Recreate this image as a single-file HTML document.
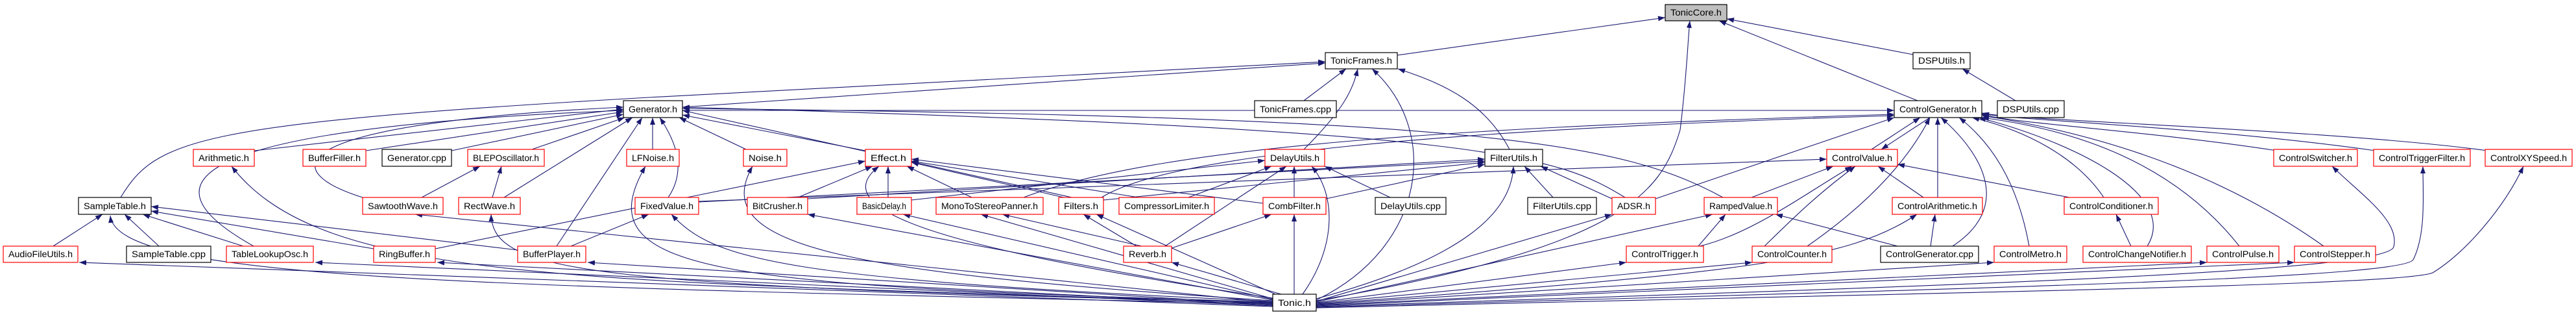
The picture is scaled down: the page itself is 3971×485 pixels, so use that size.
<!DOCTYPE html>
<html><head><meta charset="utf-8"><style>
html,body{margin:0;padding:0;background:#fff;width:3971px;height:485px;overflow:hidden}
svg{display:block}
text{font-family:"Liberation Sans",sans-serif;font-size:14px;fill:#000}
.e{fill:none;stroke:#191970;stroke-width:1.1}
.r{fill:#fff;stroke:#ff0000;stroke-width:1.2}
.b{fill:#fff;stroke:#000;stroke-width:1.2}
</style></head><body>
<svg width="3971" height="485" viewBox="0 0 3971 485" xmlns="http://www.w3.org/2000/svg">
<defs><marker id="a" viewBox="0 0 10 10" refX="10" refY="5" markerWidth="11" markerHeight="8" markerUnits="userSpaceOnUse" orient="auto" preserveAspectRatio="none"><path d="M0,0L10,5L0,10z" fill="#191970"/></marker></defs>
<g class="e" marker-end="url(#a)">
<path d="M1962,472 L122,404"/>
<path d="M1962,471 L486,404"/>
<path d="M1962,470 L674,404"/>
<path d="M1962,469 L906,404"/>
<path d="M1962,468 C700,440 180,430 170,332"/>
<path d="M1962,467 C900,430 500,440 357,256"/>
<path d="M1962,466 L640,330"/>
<path d="M1962,466 C900,440 760,420 757,330"/>
<path d="M1962,465 C1100,440 900,420 995,256"/>
<path d="M1962,464 C1200,430 1100,400 1035,330"/>
<path d="M1962,463 C1300,420 1090,380 1160,256"/>
<path d="M1962,462 L1245,330"/>
<path d="M1962,461 L1392,330"/>
<path d="M1962,460 L1512,330"/>
<path d="M1966,453 L1690,330"/>
<path d="M1975,453 L1806,404"/>
<path d="M1995,453 L1995,330"/>
<path d="M2008,453 C2060,380 2060,300 2022,256"/>
<path d="M1962,459 C1500,390 1260,330 1355,256"/>
<path d="M2029,460 C2250,400 2330,330 2333,256"/>
<path d="M2029,462 C2200,380 2220,200 2115,106"/>
<path d="M2029,463 C2500,380 2560,300 2590,200 C2600,120 2602,60 2605,32"/>
<path d="M2029,464 L2485,330"/>
<path d="M2029,465 L2640,330"/>
<path d="M2029,466 L2507,404"/>
<path d="M2029,467 L2701,404"/>
<path d="M2029,468 C2700,420 2850,400 2955,330"/>
<path d="M2029,469 L3074,404"/>
<path d="M2029,470 L3402,404"/>
<path d="M2029,471 L3537,404"/>
<path d="M2029,472 C3000,440 3680,420 3690,380 C3700,340 3640,300 3595,256"/>
<path d="M2029,473 C3000,445 3700,430 3720,400 C3740,360 3735,300 3735,256"/>
<path d="M2029,474 C3000,450 3700,440 3750,420 C3800,390 3860,320 3890,256"/>
<path d="M2154,85 L2567,27"/>
<path d="M2949,84 L2662,29"/>
<path d="M2956,155 L2650,32"/>
<path d="M3107,155 L3025,106"/>
<path d="M1052,165 L2043,97"/>
<path d="M186,304 C240,215 300,190 1000,150 L2043,95"/>
<path d="M2010,155 L2075,106"/>
<path d="M2010,230 C2070,170 2085,140 2093,106"/>
<path d="M2327,230 C2290,160 2230,130 2155,106"/>
<path d="M392,232 L961,168"/>
<path d="M564,232 L961,172"/>
<path d="M696,232 L961,176"/>
<path d="M820,230 L963,181"/>
<path d="M777,304 L975,181"/>
<path d="M559,304 C420,260 440,190 961,165"/>
<path d="M1006,230 L1006,181"/>
<path d="M1030,304 C1060,260 1040,215 1017,181"/>
<path d="M1150,230 L1047,181"/>
<path d="M1334,232 L1052,177"/>
<path d="M858,379 L990,181"/>
<path d="M391,379 C250,300 200,200 961,170"/>
<path d="M2505,304 C2400,240 2300,200 1052,165"/>
<path d="M2656,304 C2500,220 2300,180 1052,167"/>
<path d="M1652,304 L1052,170"/>
<path d="M1052,170 L2920,170"/>
<path d="M1230,304 L1345,256"/>
<path d="M1369,304 L1369,256"/>
<path d="M1498,304 L1398,256"/>
<path d="M1640,304 L1405,250"/>
<path d="M1755,304 L1405,248"/>
<path d="M1947,313 L1405,245"/>
<path d="M671,383 L1334,248"/>
<path d="M1405,308 L1950,247"/>
<path d="M1832,304 L1960,256"/>
<path d="M1796,379 L1983,256"/>
<path d="M1995,304 L1995,256"/>
<path d="M2143,304 L2042,256"/>
<path d="M1077,311 L2289,248"/>
<path d="M1701,308 L2289,250"/>
<path d="M2044,306 L2289,253"/>
<path d="M1245,306 L2289,245"/>
<path d="M2394,304 L2350,256"/>
<path d="M2485,306 L2375,256"/>
<path d="M2885,230 L2960,181"/>
<path d="M2975,181 L2900,230"/>
<path d="M2987,304 L2987,181"/>
<path d="M3243,304 C3200,240 3120,200 3040,181"/>
<path d="M3010,379 C3100,320 3060,240 2992,181"/>
<path d="M3128,379 C3110,280 3070,220 3020,181"/>
<path d="M3310,379 C3360,300 3200,220 3050,181"/>
<path d="M3452,379 C3350,250 3200,200 3055,181"/>
<path d="M3582,379 C3400,250 3200,200 3055,178"/>
<path d="M3510,232 C3300,200 3100,190 3055,176"/>
<path d="M3662,232 C3400,195 3100,185 3055,175"/>
<path d="M3835,232 C3600,200 3100,185 3055,174"/>
<path d="M2786,379 C2900,300 2950,230 2975,181"/>
<path d="M2552,306 L2920,181"/>
<path d="M1698,304 C1800,240 2200,200 2920,178"/>
<path d="M1578,304 C1800,220 2300,195 2920,176"/>
<path d="M2620,379 C2700,360 2780,300 2855,256"/>
<path d="M2700,304 L2826,256"/>
<path d="M2965,304 L2895,256"/>
<path d="M3190,304 L2925,253"/>
<path d="M1077,310 L2816,245"/>
<path d="M2720,379 C2760,340 2800,300 2860,256"/>
<path d="M2976,379 L2983,330"/>
<path d="M3285,379 L3262,330"/>
<path d="M2618,379 L2660,330"/>
<path d="M2925,379 L2737,330"/>
<path d="M82,379 L158,330"/>
<path d="M245,379 L192,330"/>
<path d="M375,379 L220,330"/>
<path d="M576,383 L233,325"/>
<path d="M798,385 L233,318"/>
<path d="M759,304 L773,256"/>
<path d="M650,304 L740,256"/>
<path d="M880,379 L1000,330"/>
<path d="M1760,379 L1545,330"/>
<path d="M1752,379 L1670,330"/>
<path d="M1806,382 L1960,330"/>
</g>
<g>
<rect x="2567" y="7" width="95" height="25" fill="#bfbfbf" stroke="#000" stroke-width="1.2"/><text x="2575" y="24" textLength="79" lengthAdjust="spacingAndGlyphs">TonicCore.h</text>
<rect class="b" x="2043" y="81" width="111" height="25"/><text x="2051" y="98" textLength="95" lengthAdjust="spacingAndGlyphs">TonicFrames.h</text>
<rect class="b" x="2949" y="81" width="88" height="25"/><text x="2957" y="98" textLength="72" lengthAdjust="spacingAndGlyphs">DSPUtils.h</text>
<rect class="b" x="961" y="155" width="91" height="26"/><text x="969" y="173" textLength="75" lengthAdjust="spacingAndGlyphs">Generator.h</text>
<rect class="b" x="1934" y="155" width="126" height="26"/><text x="1942" y="173" textLength="110" lengthAdjust="spacingAndGlyphs">TonicFrames.cpp</text>
<rect class="b" x="2920" y="155" width="135" height="26"/><text x="2928" y="173" textLength="119" lengthAdjust="spacingAndGlyphs">ControlGenerator.h</text>
<rect class="b" x="3079" y="155" width="103" height="26"/><text x="3087" y="173" textLength="87" lengthAdjust="spacingAndGlyphs">DSPUtils.cpp</text>
<rect class="r" x="298" y="230" width="94" height="26"/><text x="306" y="248" textLength="78" lengthAdjust="spacingAndGlyphs">Arithmetic.h</text>
<rect class="r" x="467" y="230" width="97" height="26"/><text x="475" y="248" textLength="81" lengthAdjust="spacingAndGlyphs">BufferFiller.h</text>
<rect class="b" x="589" y="230" width="107" height="26"/><text x="597" y="248" textLength="91" lengthAdjust="spacingAndGlyphs">Generator.cpp</text>
<rect class="r" x="721" y="230" width="118" height="26"/><text x="729" y="248" textLength="102" lengthAdjust="spacingAndGlyphs">BLEPOscillator.h</text>
<rect class="r" x="966" y="230" width="81" height="26"/><text x="974" y="248" textLength="65" lengthAdjust="spacingAndGlyphs">LFNoise.h</text>
<rect class="r" x="1146" y="230" width="67" height="26"/><text x="1154" y="248" textLength="51" lengthAdjust="spacingAndGlyphs">Noise.h</text>
<rect class="r" x="1334" y="230" width="71" height="26"/><text x="1342" y="248" textLength="55" lengthAdjust="spacingAndGlyphs">Effect.h</text>
<rect class="r" x="1950" y="230" width="92" height="26"/><text x="1958" y="248" textLength="76" lengthAdjust="spacingAndGlyphs">DelayUtils.h</text>
<rect class="b" x="2289" y="230" width="89" height="26"/><text x="2297" y="248" textLength="73" lengthAdjust="spacingAndGlyphs">FilterUtils.h</text>
<rect class="r" x="2816" y="230" width="109" height="26"/><text x="2824" y="248" textLength="93" lengthAdjust="spacingAndGlyphs">ControlValue.h</text>
<rect class="r" x="3505" y="230" width="129" height="26"/><text x="3513" y="248" textLength="113" lengthAdjust="spacingAndGlyphs">ControlSwitcher.h</text>
<rect class="r" x="3659" y="230" width="149" height="26"/><text x="3667" y="248" textLength="133" lengthAdjust="spacingAndGlyphs">ControlTriggerFilter.h</text>
<rect class="r" x="3831" y="230" width="134" height="26"/><text x="3839" y="248" textLength="118" lengthAdjust="spacingAndGlyphs">ControlXYSpeed.h</text>
<rect class="b" x="121" y="304" width="112" height="26"/><text x="129" y="322" textLength="96" lengthAdjust="spacingAndGlyphs">SampleTable.h</text>
<rect class="r" x="559" y="304" width="124" height="26"/><text x="567" y="322" textLength="108" lengthAdjust="spacingAndGlyphs">SawtoothWave.h</text>
<rect class="r" x="707" y="304" width="95" height="26"/><text x="715" y="322" textLength="79" lengthAdjust="spacingAndGlyphs">RectWave.h</text>
<rect class="r" x="979" y="304" width="98" height="26"/><text x="987" y="322" textLength="82" lengthAdjust="spacingAndGlyphs">FixedValue.h</text>
<rect class="r" x="1152" y="304" width="93" height="26"/><text x="1160" y="322" textLength="77" lengthAdjust="spacingAndGlyphs">BitCrusher.h</text>
<rect class="r" x="1321" y="304" width="84" height="26"/><text x="1329" y="322" textLength="68" lengthAdjust="spacingAndGlyphs">BasicDelay.h</text>
<rect class="r" x="1443" y="304" width="165" height="26"/><text x="1451" y="322" textLength="149" lengthAdjust="spacingAndGlyphs">MonoToStereoPanner.h</text>
<rect class="r" x="1632" y="304" width="69" height="26"/><text x="1640" y="322" textLength="53" lengthAdjust="spacingAndGlyphs">Filters.h</text>
<rect class="r" x="1725" y="304" width="147" height="26"/><text x="1733" y="322" textLength="131" lengthAdjust="spacingAndGlyphs">CompressorLimiter.h</text>
<rect class="r" x="1947" y="304" width="97" height="26"/><text x="1955" y="322" textLength="81" lengthAdjust="spacingAndGlyphs">CombFilter.h</text>
<rect class="b" x="2120" y="304" width="109" height="26"/><text x="2128" y="322" textLength="93" lengthAdjust="spacingAndGlyphs">DelayUtils.cpp</text>
<rect class="b" x="2355" y="304" width="106" height="26"/><text x="2363" y="322" textLength="90" lengthAdjust="spacingAndGlyphs">FilterUtils.cpp</text>
<rect class="r" x="2485" y="304" width="67" height="26"/><text x="2493" y="322" textLength="51" lengthAdjust="spacingAndGlyphs">ADSR.h</text>
<rect class="r" x="2627" y="304" width="113" height="26"/><text x="2635" y="322" textLength="97" lengthAdjust="spacingAndGlyphs">RampedValue.h</text>
<rect class="r" x="2917" y="304" width="139" height="26"/><text x="2925" y="322" textLength="123" lengthAdjust="spacingAndGlyphs">ControlArithmetic.h</text>
<rect class="r" x="3182" y="304" width="145" height="26"/><text x="3190" y="322" textLength="129" lengthAdjust="spacingAndGlyphs">ControlConditioner.h</text>
<rect class="r" x="5" y="379" width="115" height="25"/><text x="13" y="396" textLength="99" lengthAdjust="spacingAndGlyphs">AudioFileUtils.h</text>
<rect class="b" x="195" y="379" width="130" height="25"/><text x="203" y="396" textLength="114" lengthAdjust="spacingAndGlyphs">SampleTable.cpp</text>
<rect class="r" x="349" y="379" width="134" height="25"/><text x="357" y="396" textLength="118" lengthAdjust="spacingAndGlyphs">TableLookupOsc.h</text>
<rect class="r" x="576" y="379" width="95" height="25"/><text x="584" y="396" textLength="79" lengthAdjust="spacingAndGlyphs">RingBuffer.h</text>
<rect class="r" x="798" y="379" width="105" height="25"/><text x="806" y="396" textLength="89" lengthAdjust="spacingAndGlyphs">BufferPlayer.h</text>
<rect class="r" x="1732" y="379" width="74" height="25"/><text x="1740" y="396" textLength="58" lengthAdjust="spacingAndGlyphs">Reverb.h</text>
<rect class="r" x="2507" y="379" width="119" height="25"/><text x="2515" y="396" textLength="103" lengthAdjust="spacingAndGlyphs">ControlTrigger.h</text>
<rect class="r" x="2701" y="379" width="123" height="25"/><text x="2709" y="396" textLength="107" lengthAdjust="spacingAndGlyphs">ControlCounter.h</text>
<rect class="b" x="2899" y="379" width="151" height="25"/><text x="2907" y="396" textLength="135" lengthAdjust="spacingAndGlyphs">ControlGenerator.cpp</text>
<rect class="r" x="3074" y="379" width="112" height="25"/><text x="3082" y="396" textLength="96" lengthAdjust="spacingAndGlyphs">ControlMetro.h</text>
<rect class="r" x="3211" y="379" width="167" height="25"/><text x="3219" y="396" textLength="151" lengthAdjust="spacingAndGlyphs">ControlChangeNotifier.h</text>
<rect class="r" x="3402" y="379" width="111" height="25"/><text x="3410" y="396" textLength="95" lengthAdjust="spacingAndGlyphs">ControlPulse.h</text>
<rect class="r" x="3537" y="379" width="125" height="25"/><text x="3545" y="396" textLength="109" lengthAdjust="spacingAndGlyphs">ControlStepper.h</text>
<rect class="b" x="1962" y="453" width="67" height="26"/><text x="1970" y="471" textLength="51" lengthAdjust="spacingAndGlyphs">Tonic.h</text>
</g>
</svg>
</body></html>
